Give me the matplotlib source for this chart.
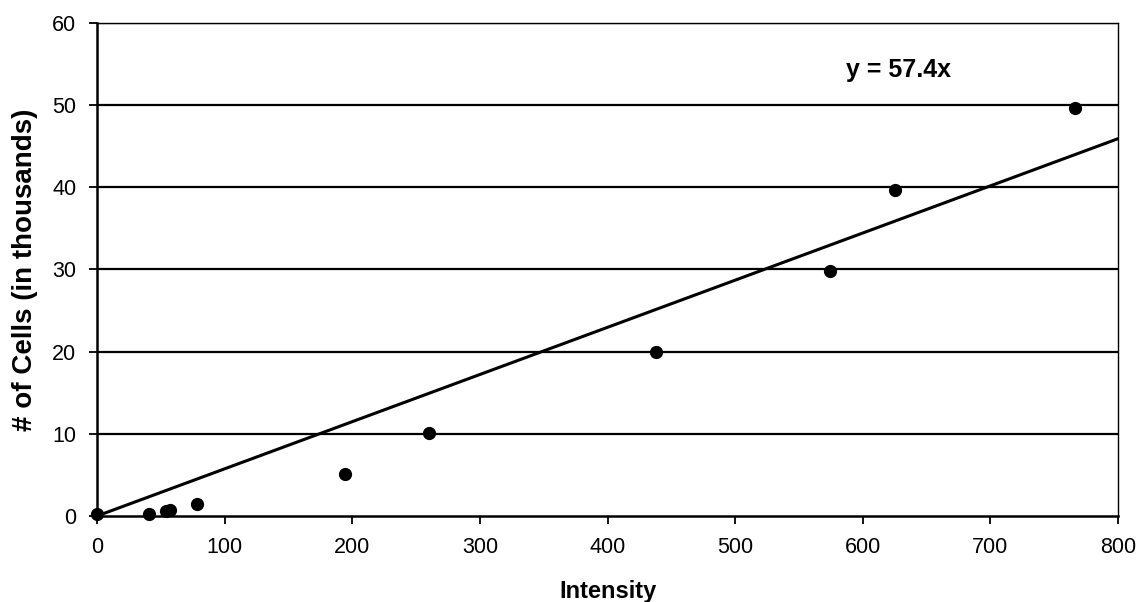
import numpy as np
import matplotlib.pyplot as plt

plt.rcParams['font.family'] = ['Liberation Sans', 'DejaVu Sans']

# measured points
intensity = [0, 41, 54, 57, 78, 194, 260, 438, 574, 625, 766]
cells = [0.2, 0.3, 0.6, 0.7, 1.5, 5.1, 10.1, 20.0, 29.8, 39.7, 49.6]

# trendline through origin, slope per thousand
slope = 57.4 / 1000
trend_x = np.array([0, 800])
trend_label = "y = 57.4x"

fig = plt.figure(figsize=(11.39, 6.02), dpi=100)
ax = fig.add_axes([0.0852, 0.1429, 0.8964, 0.8189])

ax.plot(trend_x, slope * trend_x, color='black', lw=2.2, zorder=3)
ax.plot(intensity, cells, 'o', color='black', markersize=8.5, zorder=4, clip_on=False)

ax.set_xlim(0, 800)
ax.set_ylim(0, 60)
ax.set_xticks(np.arange(0, 801, 100))
ax.set_yticks(np.arange(0, 61, 10))
for yv in range(10, 61, 10):
    ax.axhline(yv, color='black', lw=1.6, zorder=1)

for s in ['left', 'bottom']:
    ax.spines[s].set_linewidth(1.8)
for s in ['top', 'right']:
    ax.spines[s].set_linewidth(1.0)

ax.tick_params(axis='both', direction='out', length=6, width=1.3, labelsize=15.5, pad=9)
ax.set_xlabel("Intensity", fontsize=17, fontweight='bold', labelpad=16)
ax.set_ylabel("# of Cells (in thousands)", fontsize=20, fontweight='bold', labelpad=10)

ax.text(628, 54.3, trend_label, fontsize=18, fontweight='bold', ha='center', va='center')

fig.savefig("out.png", dpi=100)
